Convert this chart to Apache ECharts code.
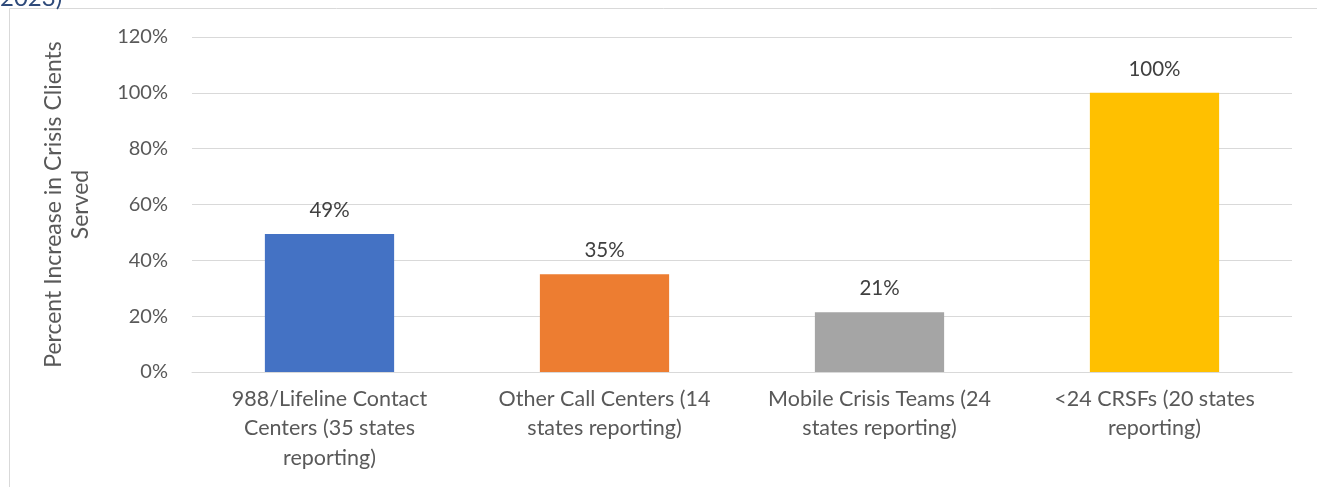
<!DOCTYPE html>
<html>
<head>
<meta charset="utf-8">
<script src="https://cdn.jsdelivr.net/npm/echarts@6/dist/echarts.min.js"></script>
<style>
  html, body { margin: 0; padding: 0; background: #fff; }
  #chart { width: 1317px; height: 487px; }
</style>
</head>
<body>
<div id="chart"></div>
<script>
const categories = [
  '988/Lifeline Contact\nCenters (35 states\nreporting)',
  'Other Call Centers (14\nstates reporting)',
  'Mobile Crisis Teams (24\nstates reporting)',
  '<24 CRSFs (20 states\nreporting)'
];
const values = [49.4, 35, 21.4, 100];
const barColors = ['#4472C4', '#ED7D31', '#A5A5A5', '#FFC000'];
const yTicks = { min: 0, max: 120, interval: 20 };
const yTitle = 'Percent Increase in Crisis Clients\nServed';
const cornerText = '2023)';

const font = 'Lato, "Open Sans", sans-serif';

const chart = echarts.init(document.getElementById('chart'));

const option = {
  animation: false,
  textStyle: { fontFamily: font },
  grid: { left: 192, right: 25, top: 37, bottom: 115 },
  graphic: [
    {
      type: 'rect',
      shape: { x: 9.5, y: 8.5, width: 1400, height: 600 },
      style: { fill: 'none', stroke: '#d9d9d9', lineWidth: 1 }
    },
    {
      type: 'text',
      x: 0, y: 10,
      style: {
        text: cornerText, font: '24px ' + font, fill: '#2E4A7A',
        verticalAlign: 'bottom'
      }
    }
  ],
  xAxis: {
    type: 'category',
    data: categories,
    axisTick: { show: false },
    axisLine: { lineStyle: { color: '#d9d9d9', width: 1 } },
    axisLabel: {
      interval: 0, color: '#595959', fontSize: 21.5, lineHeight: 29.5,
      margin: 12, fontFamily: font
    }
  },
  yAxis: {
    type: 'value',
    min: yTicks.min, max: yTicks.max, interval: yTicks.interval,
    name: yTitle,
    nameLocation: 'middle',
    nameRotate: 90,
    nameGap: 98,
    nameTextStyle: { color: '#595959', fontSize: 23, lineHeight: 27, fontFamily: font },
    axisLine: { show: false },
    axisTick: { show: false },
    splitLine: { lineStyle: { color: '#d9d9d9', width: 1 } },
    axisLabel: {
      color: '#595959', fontSize: 20, margin: 24, fontFamily: font,
      formatter: v => v + '%'
    }
  },
  series: [{
    type: 'bar',
    barWidth: '47%',
    data: values.map((v, i) => ({ value: v, itemStyle: { color: barColors[i] } })),
    label: {
      show: true, position: 'top', distance: 13,
      color: '#404040', fontSize: 20.5, fontFamily: font,
      formatter: p => Math.round(p.value) + '%'
    }
  }]
};

chart.setOption(option);
</script>
</body>
</html>
